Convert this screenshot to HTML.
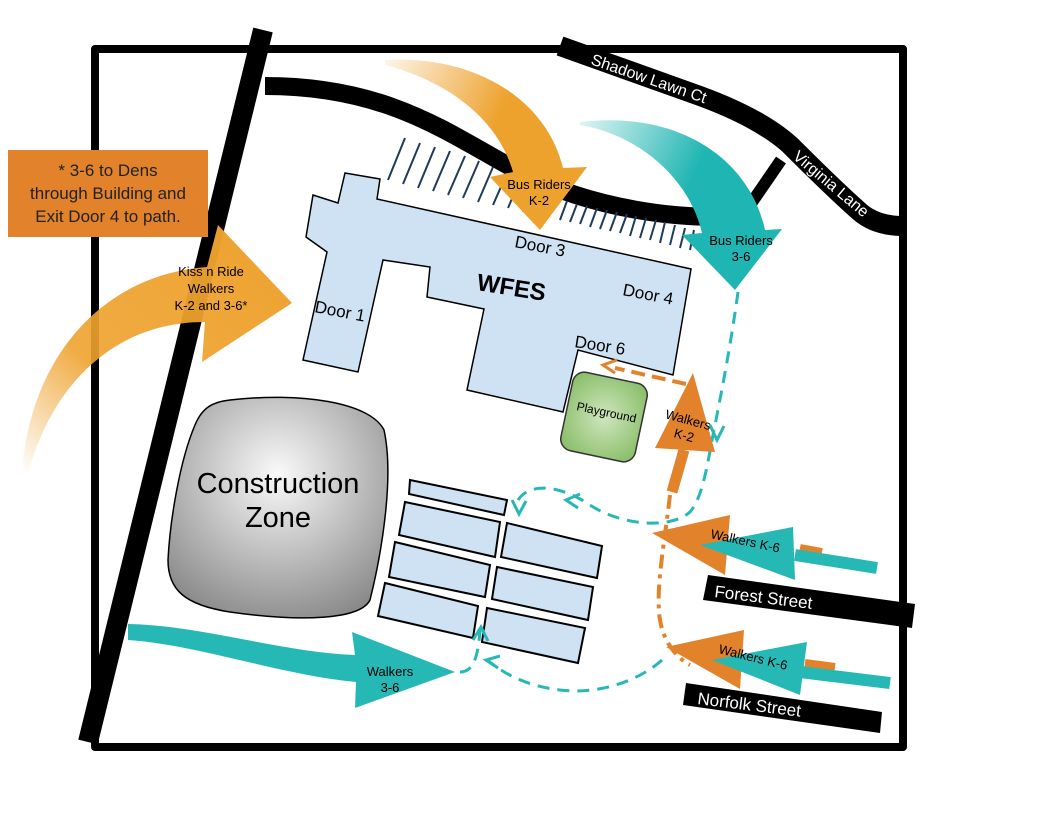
<!DOCTYPE html>
<html><head><meta charset="utf-8"><style>
html,body{margin:0;padding:0;background:#fff;}
svg{display:block;}
text{font-family:"Liberation Sans",sans-serif;}
</style></head><body>
<svg width="1056" height="816" viewBox="0 0 1056 816" xmlns="http://www.w3.org/2000/svg">
<defs>
<linearGradient id="gk" x1="0" y1="1" x2="1" y2="0"><stop offset="0" stop-color="#eea22e" stop-opacity="0"/><stop offset="0.35" stop-color="#eea22e" stop-opacity="0.9"/><stop offset="1" stop-color="#eea22e"/></linearGradient>
<linearGradient id="gb" x1="0" y1="0" x2="1" y2="0.4"><stop offset="0" stop-color="#eea22e" stop-opacity="0.1"/><stop offset="0.6" stop-color="#eea22e"/></linearGradient>
<linearGradient id="gt" x1="0" y1="0" x2="1" y2="0.4"><stop offset="0" stop-color="#26b8b5" stop-opacity="0.15"/><stop offset="0.6" stop-color="#1fb5b2"/></linearGradient>
<radialGradient id="gc" cx="0.5" cy="0.35" r="0.7"><stop offset="0" stop-color="#fafafa"/><stop offset="1" stop-color="#8a8a8a"/></radialGradient>
<radialGradient id="gp" cx="0.5" cy="0.5" r="0.6"><stop offset="0" stop-color="#cfe6bd"/><stop offset="1" stop-color="#8dc06e"/></radialGradient>
</defs>
<rect x="95" y="49" width="808" height="698" fill="none" stroke="#000" stroke-width="8" stroke-linejoin="round"/>
<path d="M265,86 C390,86 450,135 520,172 C590,208 680,222 750,215" fill="none" stroke="#000" stroke-width="18"/>
<path d="M560,46 L700,96 Q760,118 790,145 Q835,190 860,212 Q875,225 900,226" fill="none" stroke="#000" stroke-width="20"/>
<path d="M781,160 L748,208" stroke="#000" stroke-width="12"/>
<line x1="263" y1="30" x2="88" y2="742" stroke="#000" stroke-width="20"/>
<text transform="translate(176,478) rotate(-76)" fill="#fff" font-size="15">Iva Lane</text>
<text transform="translate(590,64) rotate(19)" fill="#fff" font-size="16">Shadow Lawn Ct</text>
<text transform="translate(792,158) rotate(40)" fill="#fff" font-size="16">Virginia Lane</text>
<g stroke="#1f3b5a" stroke-width="2">
<line x1="388" y1="180" x2="405" y2="138"/><line x1="403" y1="184" x2="420" y2="143"/><line x1="418" y1="188" x2="435" y2="147"/><line x1="433" y1="191" x2="450" y2="151"/><line x1="448" y1="195" x2="465" y2="156"/><line x1="463" y1="198" x2="479" y2="161"/><line x1="478" y1="202" x2="493" y2="167"/><line x1="493" y1="205" x2="507" y2="173"/><line x1="508" y1="208" x2="520" y2="180"/><line x1="523" y1="212" x2="534" y2="188"/>
<line x1="560" y1="220" x2="567" y2="201"/><line x1="570" y1="222" x2="577" y2="204"/><line x1="580" y1="224" x2="587" y2="206"/><line x1="590" y1="227" x2="597" y2="208"/><line x1="600" y1="229" x2="607" y2="210"/><line x1="610" y1="231" x2="617" y2="212"/><line x1="620" y1="233" x2="627" y2="214"/><line x1="630" y1="236" x2="636" y2="216"/><line x1="640" y1="238" x2="646" y2="218"/><line x1="650" y1="240" x2="656" y2="220"/><line x1="660" y1="243" x2="665" y2="222"/><line x1="670" y1="245" x2="675" y2="225"/><line x1="680" y1="248" x2="685" y2="228"/><line x1="690" y1="250" x2="694" y2="230"/>
</g>
<polygon points="345,173 380,179 377,199 691,269 673,375 578,350 563,412 467,390 484,309 427,297 430,267 383,260 358,372 303,360 327,252 306,237 313,195 338,203" fill="#cfe2f3" stroke="#000" stroke-width="1.5"/>
<text transform="translate(514,247) rotate(11)" font-size="17">Door 3</text>
<text transform="translate(476,290) rotate(9)" font-size="24" font-weight="bold">WFES</text>
<text transform="translate(622,295) rotate(11)" font-size="17">Door 4</text>
<text transform="translate(314,312) rotate(11)" font-size="17">Door 1</text>
<text transform="translate(574,347) rotate(9)" font-size="17">Door 6</text>
<rect x="-38" y="-40" width="76" height="80" rx="12" transform="translate(604,417) rotate(12)" fill="url(#gp)" stroke="#333" stroke-width="1.5"/>
<text transform="translate(576,410) rotate(12)" font-size="12">Playground</text>
<path d="M230,400 C300,392 370,402 384,430 C395,480 380,560 370,600 C360,620 300,622 230,612 C185,605 168,590 168,560 C170,520 180,460 195,425 C202,408 212,402 230,400 Z" fill="url(#gc)" stroke="#000" stroke-width="1.5"/>
<text x="278" y="493" text-anchor="middle" font-size="29">Construction</text>
<text x="278" y="527" text-anchor="middle" font-size="29">Zone</text>
<g fill="#cfe2f3" stroke="#000" stroke-width="2">
<polygon points="410,480 507,500 504,515 409,494"/>
<polygon points="405,502 500,522 495,557 399,535"/>
<polygon points="507,523 602,546 597,578 501,557"/>
<polygon points="395,542 490,565 485,597 389,577"/>
<polygon points="497,567 593,587 588,620 492,599"/>
<polygon points="385,583 478,606 473,638 378,616"/>
<polygon points="487,608 585,628 578,663 482,642"/>
</g>
<path d="M22,472 C30,360 100,275 207,267 L218,225 L292,303 L202,362 L205,322 C110,322 50,390 28,474 Z" fill="url(#gk)"/>
<text text-anchor="middle" font-size="13"><tspan x="211" y="276">Kiss n Ride</tspan><tspan x="211" y="293">Walkers</tspan><tspan x="211" y="310">K-2 and 3-6*</tspan></text>
<rect x="8" y="150" width="200" height="87" fill="#e2822a"/>
<text text-anchor="middle" font-size="17" fill="#222"><tspan x="108" y="176">* 3-6 to Dens</tspan><tspan x="108" y="199">through Building and</tspan><tspan x="108" y="222">Exit Door 4 to path.</tspan></text>
<path d="M385,60 C470,55 545,95 563,168 L587,167 L540,230 L490,177 L513,172 C498,120 450,82 385,65 Z" fill="url(#gb)"/>
<text text-anchor="middle" font-size="13"><tspan x="539" y="189">Bus Riders</tspan><tspan x="539" y="205">K-2</tspan></text>
<path d="M580,122 C680,110 750,160 765,230 L782,229 L735,290 L682,235 L702,233 C690,180 640,135 580,125 Z" fill="url(#gt)"/>
<text text-anchor="middle" font-size="13"><tspan x="741" y="245">Bus Riders</tspan><tspan x="741" y="261">3-6</tspan></text>
<g fill="none" stroke="#26b8b5" stroke-width="3" stroke-dasharray="12 8">
<path d="M738,292 C730,350 720,400 712,440 C705,480 700,500 690,512 C670,530 620,525 590,505 C560,485 530,482 518,500"/>
<path d="M662,660 C640,680 600,695 560,690 C520,685 500,670 487,660"/>
<path d="M460,672 C472,672 478,660 480,630"/>
</g>
<g fill="none" stroke="#26b8b5" stroke-width="3">
<path d="M710,425 L717,440 L724,426"/><path d="M512,500 L519,514 L526,501"/><path d="M580,494 L566,500 L578,508"/>
<path d="M500,656 L486,660 L498,668"/><path d="M473,640 L481,627 L488,641"/>
</g>
<path d="M684,450 L672,492" stroke="#e2822a" stroke-width="11"/>
<path d="M693,373 L655,448 L715,452 Z" fill="#e2822a"/>
<text text-anchor="middle" font-size="13" transform="rotate(15 686 428)"><tspan x="686" y="424">Walkers</tspan><tspan x="686" y="440">K-2</tspan></text>
<path d="M670,495 C665,540 655,590 660,620 C664,645 680,660 690,665" fill="none" stroke="#e2822a" stroke-width="4" stroke-dasharray="14 6 4 6"/>
<path d="M686,384 L615,368" fill="none" stroke="#e2822a" stroke-width="4" stroke-dasharray="14 7"/>
<path d="M617,360 L603,365 L615,373" fill="none" stroke="#e2822a" stroke-width="3"/>
<path d="M800,548 L822,552" stroke="#e2822a" stroke-width="8"/>
<path d="M795,555 L877,568" stroke="#26b8b5" stroke-width="12"/>
<path d="M652,533 L730,515 L725,575 Z" fill="#e2822a"/>
<path d="M700,545 L793,527 L795,580 Z" fill="#26b8b5"/>
<text transform="translate(710,538) rotate(12)" font-size="13">Walkers K-6</text>
<polygon points="708,575 915,604 912,628 703,600" fill="#000"/>
<text transform="translate(714,597) rotate(7)" font-size="17" fill="#fff">Forest Street</text>
<path d="M805,663 L835,667" stroke="#e2822a" stroke-width="8"/>
<path d="M800,672 L890,683" stroke="#26b8b5" stroke-width="12"/>
<path d="M666,647 L744,630 L740,689 Z" fill="#e2822a"/>
<path d="M712,660 L807,642 L800,695 Z" fill="#26b8b5"/>
<text transform="translate(718,653) rotate(14)" font-size="13">Walkers K-6</text>
<polygon points="686,683 882,712 880,733 683,705" fill="#000"/>
<text transform="translate(697,704) rotate(7)" font-size="17" fill="#fff">Norfolk Street</text>
<path d="M128,624 C200,625 280,652 355,655 L352,632 L455,672 L355,708 L356,682 C280,675 200,645 128,640 Z" fill="#26b8b5"/>
<text text-anchor="middle" font-size="13"><tspan x="390" y="676">Walkers</tspan><tspan x="390" y="692">3-6</tspan></text>
</svg>
</body></html>
